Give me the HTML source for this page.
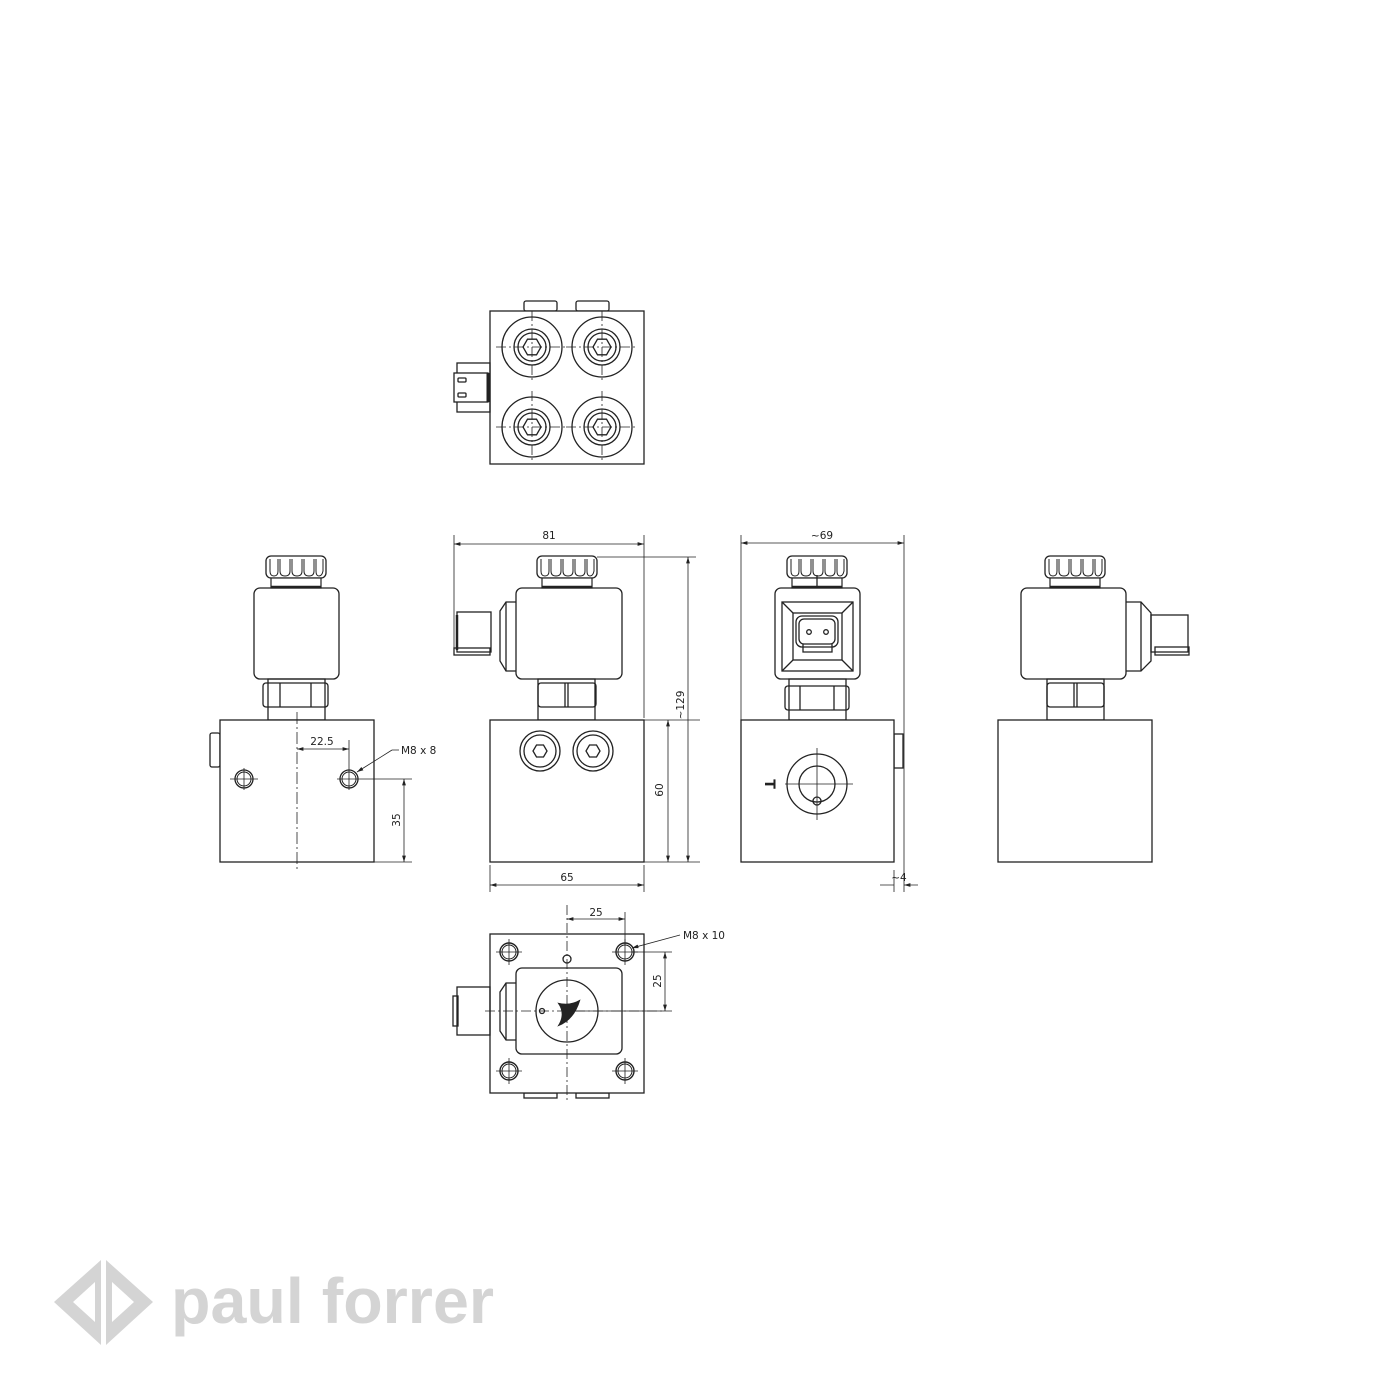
<!DOCTYPE html>
<html><head><meta charset="utf-8"><style>
html,body{margin:0;padding:0;background:#fff;}
svg{display:block;}
text{font-family:"DejaVu Sans","Liberation Sans",sans-serif;font-size:10.5px;fill:#222;}
</style></head><body>
<svg width="1400" height="1400" viewBox="0 0 1400 1400" xmlns="http://www.w3.org/2000/svg">
<defs>
<marker id="a" viewBox="0 0 10 6" refX="10" refY="3" markerWidth="8" markerHeight="5" orient="auto-start-reverse"><path d="M0,0 L10,3 L0,6 z" fill="#222"/></marker>
<g id="cap">
 <rect x="0" y="0" width="60" height="22" rx="5" fill="#fff" stroke="#222" stroke-width="1.3"/>
 <path d="M4,3 v12 q0,5 4,5 q4,0 4,-5 v-12 M14,3 v12 q0,5 5,5 q5,0 5,-5 v-12 M26,3 v12 q0,5 5,5 q5,0 5,-5 v-12 M38,3 v12 q0,5 5,5 q5,0 5,-5 v-12 M50,3 v12 q0,5 3,5 q3,0 4,-5 v-12" fill="none" stroke="#222" stroke-width="1"/>
 <rect x="5" y="22" width="50" height="10" fill="#fff" stroke="#222" stroke-width="1.2"/>
 <line x1="5" y1="31" x2="55" y2="31" stroke="#222" stroke-width="2.5"/>
</g>
<g id="port">
 <circle r="30" fill="none" stroke="#222" stroke-width="1.3"/>
 <circle r="18" fill="none" stroke="#222" stroke-width="1.3"/>
 <circle r="14" fill="none" stroke="#222" stroke-width="1.3"/>
 <polygon points="9,0 4.5,7.8 -4.5,7.8 -9,0 -4.5,-7.8 4.5,-7.8" fill="none" stroke="#222" stroke-width="1.3"/>
 <path d="M-36,0 H36 M0,-36 V36" stroke="#222" stroke-width="0.8" stroke-dasharray="10,3,2,3"/>
</g>
<g id="hole">
 <circle r="9" fill="none" stroke="#222" stroke-width="1.4"/>
 <circle r="7" fill="none" stroke="#222" stroke-width="1"/>
 <path d="M-13,0 H13 M0,-13 V13" stroke="#222" stroke-width="0.8"/>
</g>
</defs>
<g fill="none" stroke="#222" stroke-width="1.3">

<!-- TOP VIEW -->
<rect x="524" y="301" width="33" height="10" rx="2"/>
<rect x="576" y="301" width="33" height="10" rx="2"/>
<rect x="490" y="311" width="154" height="153" fill="#fff"/>
<rect x="457" y="363" width="33" height="49"/>
<rect x="454" y="373" width="34" height="29" fill="#fff"/>
<line x1="488" y1="373" x2="488" y2="402" stroke-width="3"/>
<rect x="458" y="378" width="8" height="4" rx="1"/>
<rect x="458" y="393" width="8" height="4" rx="1"/>
<use href="#port" x="532" y="347"/>
<use href="#port" x="602" y="347"/>
<use href="#port" x="532" y="427"/>
<use href="#port" x="602" y="427"/>

<!-- LEFT VIEW -->
<use href="#cap" x="266" y="556"/>
<rect x="254" y="588" width="85" height="91" rx="6"/>
<rect x="268" y="679" width="57" height="41"/>
<rect x="263" y="683" width="65" height="24" rx="3"/>
<path d="M280,683 V707 M311,683 V707"/>
<rect x="210" y="733" width="10" height="34" rx="2"/>
<rect x="220" y="720" width="154" height="142" fill="#fff"/>
<line x1="297" y1="712" x2="297" y2="870" stroke-width="0.8" stroke-dasharray="12,3,2,3"/>
<circle cx="244" cy="779" r="9"/><circle cx="244" cy="779" r="7" stroke-width="1"/>
<path d="M230,779 H258 M244,768 V790" stroke-width="0.8"/>
<circle cx="349" cy="779" r="9"/><circle cx="349" cy="779" r="7" stroke-width="1"/>
<path d="M337,779 H412 M349,740 V790" stroke-width="0.8"/>
<path d="M374,862 H412" stroke-width="0.8"/>
<line x1="297" y1="749" x2="349" y2="749" stroke-width="0.8" marker-start="url(#a)" marker-end="url(#a)"/>
<line x1="404" y1="779" x2="404" y2="862" stroke-width="0.8" marker-start="url(#a)" marker-end="url(#a)"/>
<path d="M392,750 H399 M392,750 L357,772" stroke-width="0.8" marker-end="url(#a)"/>

<!-- CENTER FRONT VIEW -->
<path d="M454,535 V650 M644,535 V718 M597,557 H696 M644,720 H700 M644,862 H700 M490,865 V892 M644,865 V892" stroke-width="0.8"/>
<line x1="454" y1="544" x2="644" y2="544" stroke-width="0.8" marker-start="url(#a)" marker-end="url(#a)"/>
<line x1="688" y1="557" x2="688" y2="862" stroke-width="0.8" marker-start="url(#a)" marker-end="url(#a)"/>
<line x1="668" y1="720" x2="668" y2="862" stroke-width="0.8" marker-start="url(#a)" marker-end="url(#a)"/>
<line x1="490" y1="885" x2="644" y2="885" stroke-width="0.8" marker-start="url(#a)" marker-end="url(#a)"/>
<use href="#cap" x="537" y="556"/>
<rect x="516" y="588" width="106" height="91" rx="6"/>
<path d="M516,602 H506 L500,611 V661 L506,671 H516"/>
<path d="M506,602 V671"/>
<rect x="457" y="612" width="34" height="40"/>
<rect x="454" y="648" width="36" height="7"/>
<line x1="457" y1="615" x2="457" y2="650" stroke-width="2.5"/>
<rect x="538" y="679" width="57" height="41"/>
<rect x="538" y="683" width="58" height="24" rx="3"/>
<path d="M565,683 V707 M568,683 V707"/>
<rect x="490" y="720" width="154" height="142" fill="#fff"/>
<circle cx="540" cy="751" r="20"/><circle cx="540" cy="751" r="16"/>
<polygon points="547,751 543.5,757 536.5,757 533,751 536.5,745 543.5,745"/>
<circle cx="593" cy="751" r="20"/><circle cx="593" cy="751" r="16"/>
<polygon points="600,751 596.5,757 589.5,757 586,751 589.5,745 596.5,745"/>

<!-- RIGHT (SIDE) VIEW -->
<path d="M741,535 V720 M904,535 V892 M894,870 V892" stroke-width="0.8"/>
<line x1="741" y1="543" x2="904" y2="543" stroke-width="0.8" marker-start="url(#a)" marker-end="url(#a)"/>
<path d="M880,885 H894 M918,885 H904" stroke-width="0.8" marker-end="url(#a)"/>
<use href="#cap" x="787" y="556"/>
<line x1="817" y1="575" x2="817" y2="587"/>
<rect x="775" y="588" width="85" height="91" rx="6"/>
<rect x="782" y="602" width="71" height="69"/>
<rect x="793" y="613" width="49" height="47"/>
<path d="M782,602 L793,613 M853,602 L842,613 M782,671 L793,660 M853,671 L842,660"/>
<rect x="796" y="616" width="42" height="31" rx="6"/>
<rect x="799" y="619" width="36" height="25" rx="5"/>
<path d="M803,644 V652 H832 V644"/>
<circle cx="809" cy="632" r="2.3"/><circle cx="826" cy="632" r="2.3"/>
<rect x="789" y="679" width="57" height="41"/>
<rect x="785" y="686" width="64" height="24" rx="3"/>
<path d="M800,686 V710 M834,686 V710"/>
<rect x="894" y="734" width="9" height="34"/>
<rect x="741" y="720" width="153" height="142" fill="#fff"/>
<circle cx="817" cy="784" r="30"/><circle cx="817" cy="784" r="18"/>
<circle cx="817" cy="801" r="4"/>
<path d="M785,784 H853 M817,748 V820" stroke-width="0.8"/>

<!-- FAR RIGHT VIEW -->
<use href="#cap" x="1045" y="556"/>
<rect x="1021" y="588" width="105" height="91" rx="6"/>
<path d="M1126,602 H1141 L1151,613 V661 L1141,671 H1126"/>
<path d="M1141,602 V671"/>
<rect x="1151" y="615" width="37" height="37"/>
<rect x="1155" y="647" width="34" height="8"/>
<rect x="1047" y="679" width="57" height="41"/>
<rect x="1047" y="683" width="57" height="24" rx="3"/>
<path d="M1074,683 V707 M1077,683 V707"/>
<rect x="998" y="720" width="154" height="142" fill="#fff"/>

<!-- BOTTOM VIEW -->
<rect x="524" y="1093" width="33" height="5"/>
<rect x="576" y="1093" width="33" height="5"/>
<rect x="490" y="934" width="154" height="159" fill="#fff"/>
<path d="M516,983 H506 L500,992 V1031 L506,1040 H516 M506,983 V1040"/>
<rect x="457" y="987" width="33" height="48"/>
<rect x="453" y="996" width="5" height="30"/>
<rect x="516" y="968" width="106" height="86" rx="6"/>
<use href="#hole" x="509" y="952"/>
<use href="#hole" x="625" y="952"/>
<use href="#hole" x="509" y="1071"/>
<use href="#hole" x="625" y="1071"/>
<circle cx="567" cy="959" r="4"/>
<circle cx="567" cy="1011" r="31"/>
<circle cx="542" cy="1011" r="2.5"/>
<path d="M558,1003 Q570,1006 580,1000 Q574,1020 558,1026 Q566,1014 558,1003 Z" fill="#222" stroke-width="0.6"/>
<path d="M567,905 V1100 M485,1011 H662" stroke-width="0.8" stroke-dasharray="10,3,2,3"/>
<path d="M625,912 V945 M632,952 H672 M567,1011 H672" stroke-width="0.8"/>
<line x1="567" y1="919" x2="625" y2="919" stroke-width="0.8" marker-start="url(#a)" marker-end="url(#a)"/>
<line x1="665" y1="952" x2="665" y2="1011" stroke-width="0.8" marker-start="url(#a)" marker-end="url(#a)"/>
<path d="M680,935 L632,948" stroke-width="0.8" marker-end="url(#a)"/>
</g>

<!-- labels -->
<text x="549" y="539" text-anchor="middle">81</text>
<text x="822" y="539" text-anchor="middle">~69</text>
<text transform="translate(684,705) rotate(-90)" text-anchor="middle">~129</text>
<text transform="translate(663,790) rotate(-90)" text-anchor="middle">60</text>
<text x="567" y="881" text-anchor="middle">65</text>
<text x="322" y="745" text-anchor="middle">22.5</text>
<text x="401" y="754">M8 x 8</text>
<text transform="translate(400,820) rotate(-90)" text-anchor="middle">35</text>
<text x="899" y="881" text-anchor="middle">~4</text>
<text x="596" y="916" text-anchor="middle">25</text>
<text transform="translate(661,981) rotate(-90)" text-anchor="middle">25</text>
<text x="683" y="939">M8 x 10</text>
<text transform="translate(765,784) rotate(90)" text-anchor="middle" style="font-size:14px;font-weight:bold">T</text>

<!-- logo -->
<g fill="#d4d4d4">
<path d="M101,1260 L54,1302 L101,1345 Z M95,1282 L95,1322 L73,1302 Z" fill-rule="evenodd"/>
<path d="M106,1260 L153,1302 L106,1345 Z M112,1282 L112,1322 L134,1302 Z" fill-rule="evenodd"/>
</g>
<text x="171" y="1323" textLength="323" lengthAdjust="spacingAndGlyphs" style="font-family:'Liberation Sans',sans-serif;font-size:64px;font-weight:bold;fill:#d4d4d4">paul forrer</text>
</svg>
</body></html>
